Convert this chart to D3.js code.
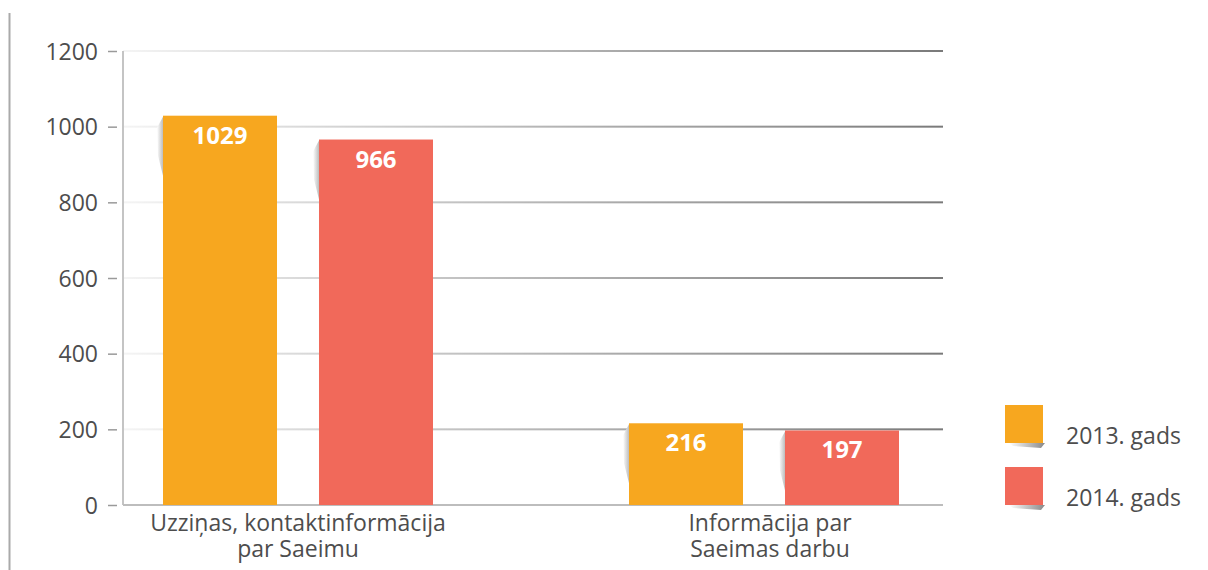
<!DOCTYPE html>
<html>
<head>
<meta charset="utf-8">
<script src="https://cdn.jsdelivr.net/npm/d3@7"></script>
<style>
  body { margin: 0; background: #fff; }
  text { font-family: "Open Sans", "Noto Sans", sans-serif; }
</style>
</head>
<body>
<div id="chart"></div>
<script>
// chart data
var categories = [["Uzziņas, kontaktinformācija", "par Saeimu"], ["Informācija par", "Saeimas darbu"]];
var seriesNames = ["2013. gads", "2014. gads"];
var values2013 = [1029, 216];
var values2014 = [966, 197];
var yTicks = [0, 200, 400, 600, 800, 1000, 1200];
var colors = ["#F7A71F", "#F1695A"];

var width = 1208, height = 570;
var plotLeft = 123, plotRight = 943, plotTop = 51, plotBottom = 505;

var svg = d3.select("#chart").append("svg")
  .attr("width", width)
  .attr("height", height);

var defs = svg.append("defs");
var grad = defs.append("linearGradient").attr("id", "gridGrad");
grad.append("stop").attr("offset", "0%").attr("stop-color", "#f4f4f4");
grad.append("stop").attr("offset", "100%").attr("stop-color", "#7a7a7a");
var shadow = defs.append("linearGradient").attr("id", "shadowGrad");
shadow.append("stop").attr("offset", "0%").attr("stop-color", "#fff");
shadow.append("stop").attr("offset", "100%").attr("stop-color", "#bdbdbd");
var shadowB = defs.append("linearGradient").attr("id", "shadowB");
shadowB.append("stop").attr("offset", "0%").attr("stop-color", "#fff");
shadowB.append("stop").attr("offset", "100%").attr("stop-color", "#888");

// the thin page rule on the far left
svg.append("line")
  .attr("x1", 9.5).attr("x2", 9.5).attr("y1", 13).attr("y2", height)
  .attr("stroke", "#aaa").attr("stroke-width", 2);

var y = d3.scaleLinear().domain([0, 1200]).range([plotBottom, plotTop]);

var x0 = d3.scaleBand().domain(d3.range(categories.length)).range([65, 997]).padding(0);
var groupWidth = 270;
var x1 = d3.scaleBand().domain(d3.range(seriesNames.length)).range([0, groupWidth])
  .paddingInner(0.2692).paddingOuter(0);
var groupOffset = (x0.bandwidth() - groupWidth) / 2;

// grid lines
svg.selectAll(".grid")
  .data(yTicks.filter(function(d) { return d > 0; }))
  .enter().append("rect")
    .attr("class", "grid")
    .attr("x", plotLeft)
    .attr("y", function(d) { return y(d) - 1; })
    .attr("width", plotRight - plotLeft)
    .attr("height", 2)
    .style("fill", "url(#gridGrad)");

// y axis
var yAxis = d3.axisLeft(y).tickValues(yTicks).tickFormat(d3.format("d")).tickSize(0).tickPadding(0);
var ya = svg.append("g").attr("transform", "translate(" + plotLeft + ",0)").call(yAxis);
ya.select(".domain").remove();
ya.append("line")
  .attr("x1", 0).attr("x2", 0).attr("y1", plotTop).attr("y2", plotBottom)
  .attr("stroke", "#c4c4c4").attr("stroke-width", 2);
ya.selectAll(".tick").append("line")
  .attr("x1", -15).attr("x2", -6).attr("y1", 0).attr("y2", 0)
  .attr("stroke", "#9a9a9a").attr("stroke-width", 1.5);
ya.selectAll(".tick text")
  .attr("x", -25)
  .attr("dy", "0.36em")
  .style("font-size", "23px")
  .style("fill", "#4d4d4d")
  .style("font-family", "'Open Sans', sans-serif");

// baseline
svg.append("line")
  .attr("x1", plotLeft).attr("x2", plotRight).attr("y1", plotBottom).attr("y2", plotBottom)
  .attr("stroke", "#bdbdbd").attr("stroke-width", 2);

// bars
var series = [values2013, values2014];
var groups = svg.selectAll(".group")
  .data(categories)
  .enter().append("g")
    .attr("transform", function(d, i) { return "translate(" + (x0(i) + groupOffset) + ",0)"; });

groups.each(function(cat, ci) {
  var g = d3.select(this);
  var bars = series.map(function(s, si) { return { si: si, v: s[ci] }; });

  // curled shadow on the left edge of each bar
  g.selectAll(".shade")
    .data(bars)
    .enter().append("path")
      .attr("d", function(d) {
        var bx = x1(d.si), top = y(d.v);
        return "M" + bx + "," + (top + 1) +
          " L" + (bx - 6) + "," + (top + 12) +
          " L" + (bx - 5) + "," + (top + 40) +
          " L" + bx + "," + (top + 60) + " Z";
      })
      .style("fill", "url(#shadowGrad)");

  g.selectAll(".bar")
    .data(bars)
    .enter().append("rect")
      .attr("x", function(d) { return x1(d.si); })
      .attr("y", function(d) { return y(d.v); })
      .attr("width", x1.bandwidth())
      .attr("height", function(d) { return y(0) - y(d.v); })
      .style("fill", function(d) { return colors[d.si]; });

  g.selectAll(".val")
    .data(bars)
    .enter().append("text")
      .text(function(d) { return d.v; })
      .attr("x", function(d) { return x1(d.si) + x1.bandwidth() / 2; })
      .attr("y", function(d) { return y(d.v) + 28; })
      .style("text-anchor", "middle")
      .style("font-size", "24px")
      .style("font-weight", "bold")
      .style("fill", "#fff");

  // category label, two lines in one text
  var cx = groupWidth / 2 + (ci === 1 ? 6 : 0);
  g.append("text")
    .style("text-anchor", "middle")
    .style("font-size", "23px")
    .style("fill", "#4d4d4d")
    .selectAll("tspan")
    .data(cat)
    .enter().append("tspan")
      .text(function(d) { return d; })
      .attr("x", cx)
      .attr("y", function(d, i) { return 531 + i * 26; });
});

// legend
var legend = svg.selectAll(".legend")
  .data(seriesNames)
  .enter().append("g")
    .attr("transform", function(d, i) { return "translate(1005," + (405 + i * 62) + ")"; });
legend.append("path")
  .attr("d", "M4,38 L40,38 L36,43 L8,41 Z")
  .style("fill", "url(#shadowB)");
legend.append("rect")
  .attr("width", 38).attr("height", 38)
  .style("fill", function(d, i) { return colors[i]; });
legend.append("text")
  .text(function(d) { return d; })
  .attr("x", 61)
  .attr("y", 39)
  .style("font-size", "23px")
  .style("fill", "#4d4d4d");
</script>
</body>
</html>
